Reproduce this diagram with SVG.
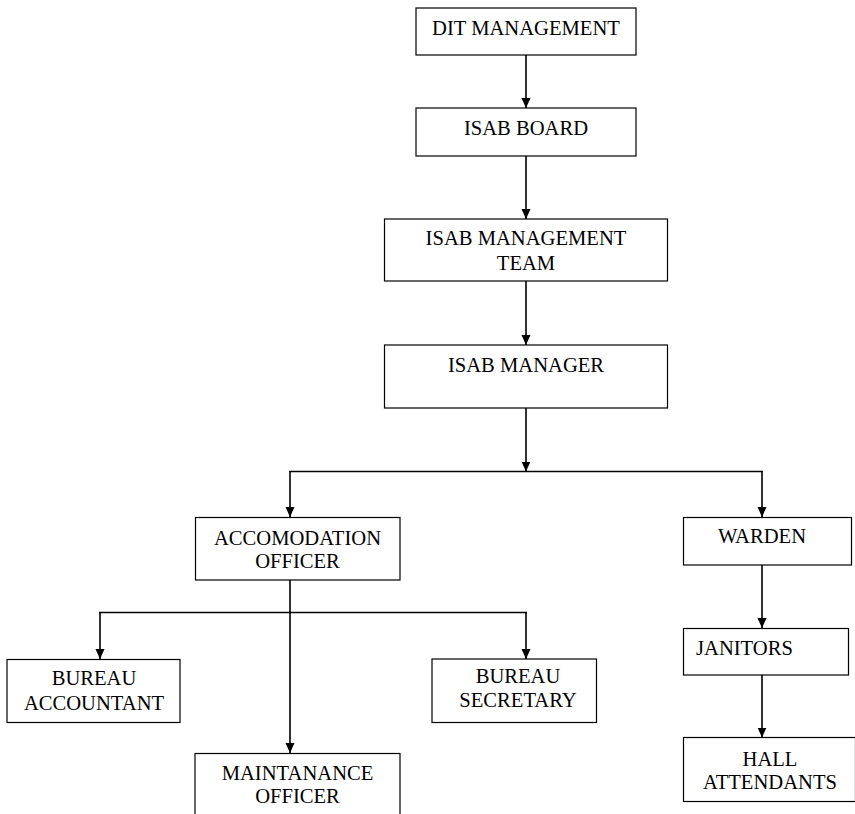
<svg xmlns="http://www.w3.org/2000/svg" width="855" height="814" viewBox="0 0 855 814">
<style>
.box{fill:#fff;stroke:#000;stroke-width:1.2}
.t{font-family:"Liberation Serif","Times New Roman",serif;font-size:20.6px;fill:#000;text-anchor:middle}
.c{fill:none;stroke:#000;stroke-width:1.6}
</style>
<defs>
<marker id="ah" markerWidth="10" markerHeight="10" refX="10" refY="5" orient="auto" markerUnits="userSpaceOnUse">
<path d="M0,0.5 L10,5 L0,9.5 Z" fill="#000"/>
</marker>
</defs>
<rect width="855" height="814" fill="#fff"/>
<g id="connectors">
<line class="c" x1="526" y1="55" x2="526" y2="108" marker-end="url(#ah)"/>
<line class="c" x1="526" y1="156" x2="526" y2="219" marker-end="url(#ah)"/>
<line class="c" x1="526" y1="281" x2="526" y2="345" marker-end="url(#ah)"/>
<line class="c" x1="526" y1="408" x2="526" y2="471.5" marker-end="url(#ah)"/>
<line class="c" x1="289" y1="471.5" x2="763" y2="471.5"/>
<line class="c" x1="290" y1="471.5" x2="290" y2="517" marker-end="url(#ah)"/>
<line class="c" x1="762" y1="471.5" x2="762" y2="517" marker-end="url(#ah)"/>
<line class="c" x1="290" y1="580" x2="290" y2="753" marker-end="url(#ah)"/>
<line class="c" x1="99" y1="612.5" x2="527" y2="612.5"/>
<line class="c" x1="100" y1="612.5" x2="100" y2="659" marker-end="url(#ah)"/>
<line class="c" x1="526" y1="612.5" x2="526" y2="659" marker-end="url(#ah)"/>
<line class="c" x1="762" y1="565" x2="762" y2="628" marker-end="url(#ah)"/>
<line class="c" x1="762" y1="675" x2="762" y2="737.5" marker-end="url(#ah)"/>
</g>
<g id="dit-management">
<rect class="box" x="416" y="8" width="220" height="47"/>
<text class="t" x="526" y="35">DIT MANAGEMENT</text>
</g>
<g id="isab-board">
<rect class="box" x="416" y="108" width="220" height="48"/>
<text class="t" x="526" y="135">ISAB BOARD</text>
</g>
<g id="isab-management-team">
<rect class="box" x="384.5" y="219" width="283" height="62"/>
<text class="t" x="526" y="245">ISAB MANAGEMENT</text>
<text class="t" x="526" y="270">TEAM</text>
</g>
<g id="isab-manager">
<rect class="box" x="384.5" y="345" width="283" height="63"/>
<text class="t" x="526" y="372">ISAB MANAGER</text>
</g>
<g id="accomodation-officer">
<rect class="box" x="195.5" y="517.5" width="204.5" height="62.5"/>
<text class="t" x="297.5" y="545">ACCOMODATION</text>
<text class="t" x="297.5" y="568">OFFICER</text>
</g>
<g id="warden">
<rect class="box" x="683.5" y="517.5" width="168" height="47.5"/>
<text class="t" x="762" y="543">WARDEN</text>
</g>
<g id="janitors">
<rect class="box" x="683.5" y="628.5" width="165" height="46.5"/>
<text class="t" x="696" y="655" style="text-anchor:start">JANITORS</text>
</g>
<g id="hall-attendants">
<rect class="box" x="683.5" y="737.5" width="172" height="64"/>
<text class="t" x="770" y="766">HALL</text>
<text class="t" x="770" y="789">ATTENDANTS</text>
</g>
<g id="bureau-accountant">
<rect class="box" x="7" y="659.5" width="173" height="63"/>
<text class="t" x="94" y="685">BUREAU</text>
<text class="t" x="94" y="710">ACCOUNTANT</text>
</g>
<g id="bureau-secretary">
<rect class="box" x="432" y="659" width="164.5" height="63.5"/>
<text class="t" x="518" y="683">BUREAU</text>
<text class="t" x="518" y="707">SECRETARY</text>
</g>
<g id="maintanance-officer">
<rect class="box" x="195" y="753.5" width="205" height="70"/>
<text class="t" x="297.5" y="780">MAINTANANCE</text>
<text class="t" x="297.5" y="803">OFFICER</text>
</g>
</svg>
